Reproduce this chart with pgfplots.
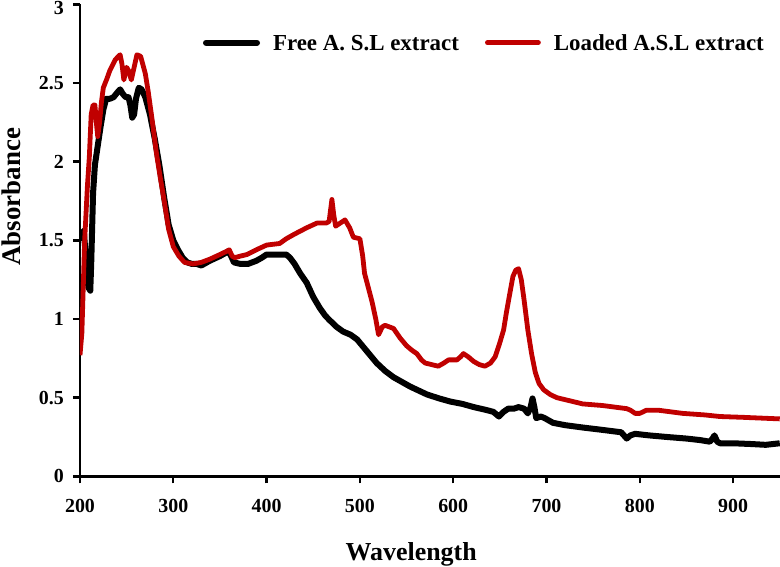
\documentclass[border=0pt]{standalone}
\usepackage{fontspec}
\setmainfont{Liberation Serif}
\usepackage{pgfplots}
\pgfplotsset{compat=1.18}
\definecolor{myred}{RGB}{192,0,0}
\begin{document}
\begin{tikzpicture}
\path[use as bounding box] (-80bp,-90.7bp) rectangle (700bp,476.3bp);
\begin{axis}[
  at={(0,0)}, anchor=south west,
  scale only axis, width=699.75bp, height=471.9bp,
  xmin=200, xmax=950, ymin=0, ymax=3,
  axis x line*=bottom, axis y line*=left,
  axis line style={line width=2.4bp},
  xtick={200,300,...,900}, ytick={0,0.5,...,2.5},
  extra y ticks={3},
  extra y tick style={yticklabel style={yshift=-3.5bp}},
  tick align=outside, major tick length=7bp,
  tick style={line width=2.4bp, black},
  /pgf/number format/assume math mode=true,
  ticklabel style={font=\bfseries\fontsize{20}{20}\selectfont, inner sep=0pt},
  xticklabel style={anchor=north, yshift=-16bp},
  yticklabel style={anchor=east, xshift=-9bp},
  xlabel={Wavelength}, ylabel={Absorbance},
  xlabel style={at={(axis description cs:0.4733,-0.1774)}, anchor=base, font=\bfseries\fontsize{26}{26}\selectfont},
  ylabel style={at={(axis description cs:-0.0976,0.5925)}, anchor=center, font=\bfseries\fontsize{27}{27}\selectfont},
  legend columns=2,
  legend image code/.code={\draw[#1, line cap=round] (0bp,0bp) -- (51bp,0bp);},
  legend style={draw=none, fill=none, inner sep=0pt, outer sep=0pt,
    at={(axis description cs:0.1758,0.919)}, anchor=west,
    font=\bfseries\fontsize{23}{23}\selectfont,
    nodes={inner sep=0pt, text depth=0pt},
    /tikz/every odd column/.append style={column sep=13bp},
    /tikz/every even column/.append style={column sep=26bp}},
]
\addplot[black, line width=6bp, line join=round] coordinates {
(200,1.50) (204,1.56) (207,1.35) (209,1.20) (211,1.18) (212,1.35) (214,1.80) (216,1.98) (219,2.10) (222,2.22) (225,2.33) (228,2.40) (232,2.40) (236,2.41) (240,2.44) (243,2.46) (246,2.43) (249,2.41) (252,2.41) (254,2.36) (256,2.28) (258,2.30) (260,2.40) (263,2.47) (266,2.46) (270,2.41) (275,2.30) (280,2.15) (285,1.98) (290,1.78) (295,1.60) (300,1.50) (305,1.44) (310,1.39) (315,1.36) (320,1.35) (325,1.35) (330,1.34) (339,1.37) (350,1.40) (359,1.43) (362,1.40) (365,1.36) (372,1.35) (380,1.35) (389,1.37) (395,1.39) (400,1.41) (414,1.41) (421,1.41) (425,1.39) (430,1.35) (436,1.29) (443,1.23) (450,1.14) (457,1.07) (463,1.02) (468,0.99) (475,0.95) (482,0.92) (490,0.90) (497,0.87) (504,0.82) (511,0.77) (518,0.72) (527,0.67) (536,0.63) (545,0.60) (554,0.57) (563,0.545) (572,0.52) (585,0.495) (597,0.475) (610,0.46) (622,0.44) (633,0.425) (643,0.41) (649,0.38) (654,0.41) (659,0.43) (665,0.43) (670,0.44) (676,0.43) (680,0.40) (683,0.44) (685,0.495) (687,0.44) (689,0.37) (694,0.38) (698,0.37) (707,0.34) (720,0.325) (739,0.31) (760,0.295) (780,0.28) (783,0.26) (786,0.24) (790,0.26) (795,0.27) (810,0.26) (829,0.25) (850,0.24) (865,0.23) (875,0.22) (878,0.24) (880,0.26) (883,0.22) (886,0.21) (900,0.21) (920,0.205) (935,0.20) (950,0.21)
};
\addlegendentry{Free A. S.L extract}
\addplot[myred, line width=4.8bp, line join=round] coordinates {
(200,0.77) (202,0.91) (205,1.50) (208,1.85) (210,2.03) (212,2.30) (214,2.36) (216,2.36) (218,2.22) (219,2.16) (221,2.25) (223,2.38) (225,2.47) (229,2.53) (232,2.58) (238,2.65) (243,2.68) (245,2.62) (247,2.52) (250,2.60) (252,2.58) (255,2.52) (258,2.60) (261,2.68) (265,2.67) (270,2.56) (273,2.45) (277,2.28) (282,2.05) (286,1.90) (290,1.76) (295,1.57) (300,1.46) (306,1.40) (312,1.36) (321,1.35) (330,1.36) (339,1.38) (350,1.41) (357,1.43) (360,1.44) (363,1.40) (366,1.39) (372,1.40) (379,1.41) (389,1.44) (400,1.47) (414,1.48) (421,1.51) (430,1.54) (443,1.58) (454,1.61) (464,1.61) (467,1.62) (470,1.76) (472,1.66) (474,1.59) (479,1.61) (484,1.63) (489,1.58) (493,1.52) (500,1.51) (503,1.40) (505,1.29) (509,1.20) (513,1.11) (517,1.00) (520,0.90) (524,0.95) (527,0.96) (536,0.94) (543,0.88) (550,0.83) (556,0.80) (561,0.78) (566,0.74) (570,0.72) (584,0.70) (590,0.72) (595,0.74) (604,0.74) (608,0.76) (611,0.78) (616,0.76) (622,0.73) (628,0.71) (634,0.70) (640,0.72) (645,0.76) (650,0.85) (654,0.93) (657,1.04) (660,1.14) (664,1.27) (667,1.31) (670,1.32) (673,1.25) (676,1.12) (680,0.93) (684,0.78) (688,0.66) (692,0.59) (697,0.55) (704,0.52) (711,0.50) (725,0.48) (739,0.46) (760,0.45) (786,0.43) (790,0.42) (795,0.40) (800,0.40) (807,0.42) (820,0.42) (846,0.40) (870,0.39) (886,0.38) (910,0.375) (930,0.37) (950,0.365)
};
\addlegendentry{Loaded A.S.L extract}
\end{axis}
\end{tikzpicture}
\end{document}
